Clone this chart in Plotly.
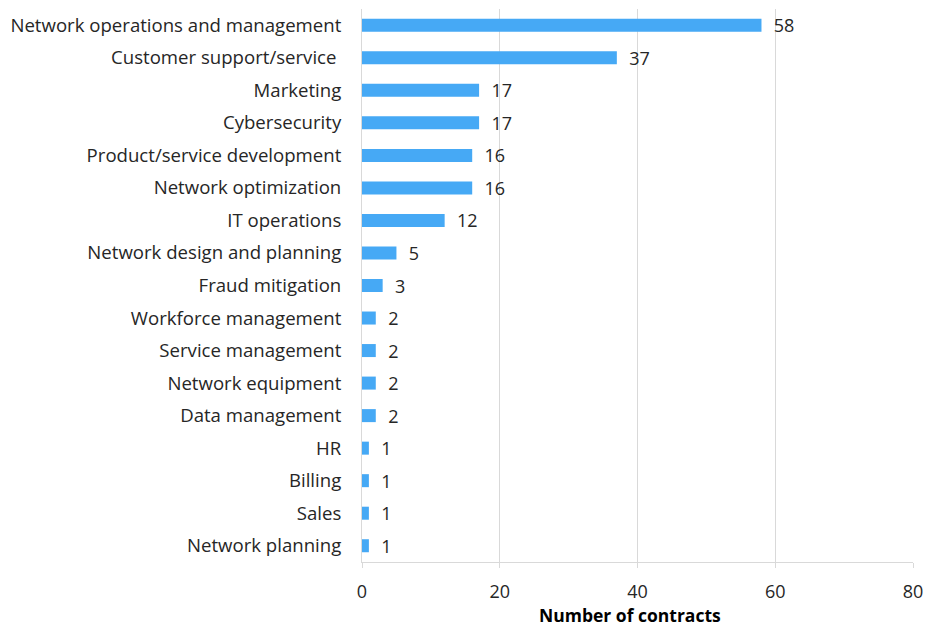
import plotly.graph_objects as go

# Number of contracts by use case (top to bottom as listed)
categories = [
    "Network operations and management",
    "Customer support/service ",
    "Marketing",
    "Cybersecurity",
    "Product/service development",
    "Network optimization",
    "IT operations",
    "Network design and planning",
    "Fraud mitigation",
    "Workforce management",
    "Service management",
    "Network equipment",
    "Data management",
    "HR",
    "Billing",
    "Sales",
    "Network planning",
]
contracts = [58, 37, 17, 17, 16, 16, 12, 5, 3, 2, 2, 2, 2, 1, 1, 1, 1]
x_ticks = [0, 20, 40, 60, 80]
x_title = "Number of contracts"

FONT = "'Open Sans', Lato, sans-serif"
BAR = "#46A9F5"
GRID = "#D9D9D9"
TXT = "#262626"

fig = go.Figure(
    go.Bar(
        x=contracts,
        y=categories,
        orientation="h",
        width=0.4,
        marker=dict(color=BAR, line=dict(width=0)),
        text=["  " + str(v) for v in contracts],
        textposition="outside",
        constraintext="none",
        outsidetextfont=dict(family=FONT, size=18, color=TXT),
        textfont=dict(family=FONT, size=18, color=TXT),
        cliponaxis=False,
    )
)

fig.update_layout(
    width=929,
    height=629,
    margin=dict(l=362, r=16, t=9, b=67, autoexpand=False),
    paper_bgcolor="white",
    plot_bgcolor="white",
    showlegend=False,
    font=dict(family=FONT, size=18, color=TXT),
    uniformtext=dict(minsize=18, mode="show"),
)

# Axis title placed just below the tick labels, resting on the bottom edge
fig.add_annotation(
    text="<b>" + x_title + "</b>",
    xref="paper",
    yref="paper",
    x=0.486,
    y=-0.119,
    xanchor="center",
    yanchor="bottom",
    borderpad=0,
    showarrow=False,
    font=dict(family=FONT, size=17.5, color="#000000"),
)

fig.update_xaxes(
    range=[0, 80],
    tickvals=x_ticks,
    automargin=False,
    showgrid=True,
    gridcolor=GRID,
    gridwidth=1,
    zeroline=False,
    showline=True,
    linecolor=GRID,
    linewidth=1,
    ticks="outside",
    ticklen=5,
    tickcolor=GRID,
    ticklabelstandoff=8,
    tickfont=dict(family=FONT, size=18, color=TXT),
)

fig.update_yaxes(
    categoryorder="array",
    categoryarray=categories[::-1],
    automargin=False,
    showgrid=False,
    zeroline=False,
    showline=True,
    linecolor=GRID,
    linewidth=1,
    ticks="",
    ticklabelstandoff=16,
    tickfont=dict(family=FONT, size=18.6, color=TXT),
)

fig.write_html("out.html")
